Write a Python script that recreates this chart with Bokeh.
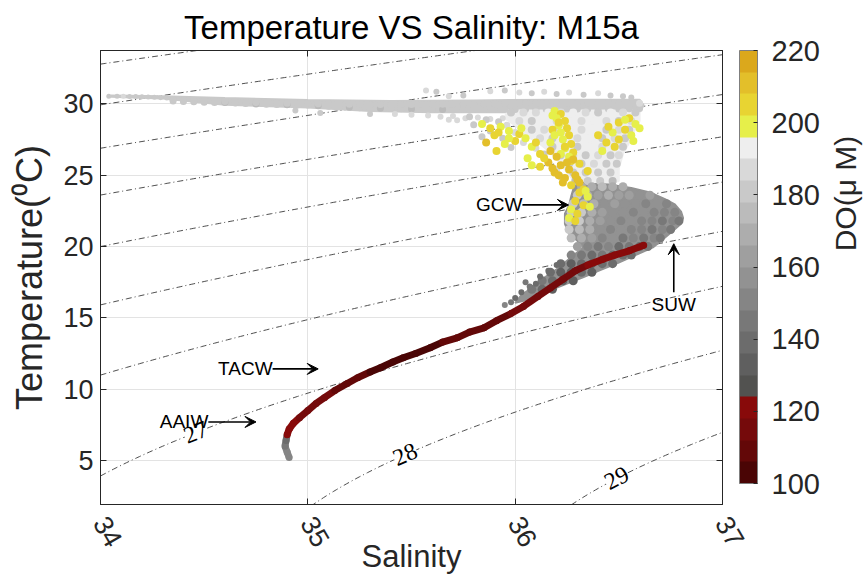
import numpy as np
from bokeh.plotting import figure
from bokeh.layouts import row
from bokeh.models import (ColumnDataSource, LinearColorMapper, ColorBar, LinearAxis,
                          Label, LabelSet, Arrow, VeeHead, FixedTicker, Range1d)
from bokeh.embed import file_html
from bokeh.resources import INLINE

FONT = "Liberation Sans"
INK = "#262626"

# ---------------- data ----------------
x_ticks = [34, 35, 36, 37]
y_ticks = [5, 10, 15, 20, 25, 30]
cb_ticks = [100, 120, 140, 160, 180, 200, 220]
sigma_levels = [20, 21, 22, 23, 24, 25, 26, 27, 28, 29]
sigma_label_levels = [27, 28, 29]
sigma_label_sal = [34.46, 35.47, 36.49]

# outlines of the densely filled parts of the cloud (salinity, temperature, DO)
band_outline_sal = [34.05, 34.30, 34.60, 35.00, 35.40, 35.80, 36.20, 36.60, 36.62,
                    36.60, 36.20, 35.80, 35.60, 35.30, 35.00, 34.60, 34.30, 34.05]
band_outline_temp = [30.60, 30.55, 30.42, 30.28, 30.20, 30.25, 30.30, 30.30, 29.90,
                     29.45, 29.43, 29.42, 29.42, 29.50, 29.75, 29.95, 30.38, 30.50]
band_patch_do = 180

cloud_outline_sal = [35.96, 36.60, 36.60, 36.57, 36.55, 36.52, 36.50, 36.50, 36.40,
                     36.30, 36.26, 36.22, 36.17, 36.12, 36.05, 36.00, 35.95]
cloud_outline_temp = [29.55, 29.55, 28.80, 28.00, 27.30, 26.50, 25.50, 24.60, 24.30,
                      24.40, 25.00, 25.80, 26.60, 27.20, 27.80, 28.50, 29.00]
cloud_patch_do = 190

bulge_outline_sal = [36.28, 36.35, 36.45, 36.56, 36.65, 36.72, 36.77, 36.80, 36.81,
                     36.80, 36.764, 36.72, 36.667, 36.58, 36.494, 36.41, 36.33, 36.25,
                     36.171, 36.10, 36.04, 36.00, 36.03, 36.06, 36.10, 36.14, 36.20,
                     36.25, 36.30, 36.33, 36.30, 36.26, 36.24, 36.24, 36.26, 36.27, 36.28]
bulge_outline_temp = [24.60, 24.40, 24.35, 24.10, 23.80, 23.35, 22.95, 22.45, 22.00,
                      21.60, 21.14, 20.60, 19.97, 19.40, 18.84, 18.35, 17.86, 17.40,
                      16.95, 16.55, 16.20, 16.05, 16.60, 16.90, 17.30, 17.80, 18.40,
                      19.00, 19.60, 19.95, 20.40, 20.90, 21.60, 22.30, 22.90, 23.50, 24.00]
bulge_patch_do = 154

# surface mixed layer: thin left tail
thin_sal = [34.04, 34.08, 34.11, 34.14, 34.17, 34.20, 34.23, 34.26, 34.29, 34.32]
thin_temp = [30.55, 30.54, 30.55, 30.53, 30.52, 30.50, 30.49, 30.47, 30.44, 30.42]
thin_do = [184, 184, 186, 184, 184, 182, 184, 182, 182, 180]

# surface mixed layer: band (upper and lower rows)
band_sal = [34.35, 34.40, 34.45, 34.50, 34.55, 34.60, 34.65, 34.70, 34.75, 34.80,
            34.85, 34.90, 34.95, 35.00, 35.05, 35.10, 35.15, 35.20, 35.25, 35.30,
            35.35, 35.40, 35.45, 35.50, 35.55, 35.60, 35.65, 35.70, 35.75, 35.80,
            35.85, 35.90, 35.95, 36.00, 36.05, 36.10, 36.15, 36.20, 36.25, 36.30,
            36.35, 36.40, 36.45, 36.50, 36.55, 36.60]
band_temp_top = [30.32, 30.28, 30.25, 30.22, 30.19, 30.17, 30.15, 30.12, 30.10, 30.08,
                 30.07, 30.05, 30.04, 30.03, 30.02, 30.00, 29.99, 29.98, 29.97, 29.96,
                 29.96, 29.95, 29.96, 29.96, 29.97, 29.98, 29.98, 29.99, 30.00, 30.00,
                 30.01, 30.02, 30.02, 30.03, 30.03, 30.04, 30.04, 30.05, 30.05, 30.05,
                 30.06, 30.05, 30.06, 30.05, 30.06, 30.05]
band_temp_bot = [30.20, 30.17, 30.15, 30.12, 30.10, 30.10, 30.06, 30.03, 30.00, 29.98,
                 29.96, 29.94, 29.93, 29.92, 29.88, 29.84, 29.80, 29.77, 29.74, 29.72,
                 29.70, 29.68, 29.66, 29.65, 29.64, 29.62, 29.62, 29.62, 29.62, 29.62,
                 29.62, 29.62, 29.62, 29.62, 29.63, 29.63, 29.63, 29.64, 29.64, 29.64,
                 29.64, 29.65, 29.65, 29.65, 29.66, 29.68]
band_do_top = [184, 182, 184, 182, 182, 184, 182, 182, 184, 182,
               182, 184, 182, 182, 184, 182, 182, 184, 182, 182,
               184, 182, 182, 184, 182, 182, 184, 182, 182, 184,
               182, 182, 184, 182, 182, 184, 182, 182, 184, 182,
               182, 184, 182, 184, 184, 186]
band_do_bot = [180, 180, 178, 180, 178, 176, 180, 178, 176, 178,
               180, 176, 178, 180, 176, 178, 180, 176, 178, 180,
               176, 178, 180, 176, 178, 180, 176, 180, 178, 180,
               180, 178, 180, 180, 178, 180, 180, 178, 180, 180,
               182, 180, 180, 182, 182, 184]

# loose dots above / below the band
loose_sal = [35.57, 35.62, 35.88, 35.95, 36.02, 36.08, 36.14, 36.20, 36.26, 36.33,
             36.40, 36.46, 36.52, 36.56, 35.68, 35.75,
             35.42, 35.50, 35.58, 35.64, 35.70, 35.76, 35.82, 35.88, 35.94, 35.72,
             35.68, 34.94, 35.06, 35.30]
loose_temp = [30.95, 30.85, 30.90, 30.95, 30.80, 30.75, 30.85, 30.70, 30.80, 30.65,
              30.75, 30.60, 30.55, 30.45, 30.55, 30.60,
              29.30, 29.25, 29.20, 29.10, 29.15, 29.00, 29.05, 28.95, 29.00, 28.85,
              28.90, 29.55, 29.37, 29.30]
loose_do = [186, 184, 186, 184, 186, 184, 186, 184, 186, 184,
            186, 184, 184, 184, 186, 184,
            186, 186, 188, 186, 188, 186, 188, 186, 188, 186,
            188, 182, 182, 184]

# upper thermocline cloud (light grey / white)
cloud_sal = [35.98, 36.04, 36.10, 36.16, 36.22, 36.28, 36.34, 36.40, 36.46, 36.52, 36.58,
             36.02, 36.08, 36.14, 36.20, 36.26, 36.32, 36.38, 36.44, 36.50, 36.56,
             36.08, 36.14, 36.20, 36.26, 36.32, 36.38, 36.44, 36.50, 36.55,
             36.12, 36.18, 36.24, 36.30, 36.36, 36.42, 36.48, 36.53,
             36.18, 36.24, 36.30, 36.36, 36.42, 36.48, 36.52,
             36.22, 36.28, 36.34, 36.40, 36.46, 36.50,
             36.26, 36.32, 36.38, 36.44, 36.49,
             36.28, 36.34, 36.40, 36.46,
             36.29, 36.35, 36.41, 36.47]
cloud_temp = [29.4] * 11 + [28.8] * 10 + [28.2] * 9 + [27.6] * 8 + [27.0] * 7 + \
             [26.4] * 6 + [25.8] * 5 + [25.2] * 4 + [24.6] * 4
cloud_do = [184, 186, 188, 192, 186, 192, 188, 184, 190, 186, 184,
            186, 184, 190, 186, 192, 186, 190, 186, 184, 186,
            184, 188, 186, 192, 186, 190, 184, 188, 184,
            186, 184, 190, 186, 190, 184, 188, 184,
            184, 188, 184, 190, 186, 188, 184,
            184, 186, 184, 188, 184, 186,
            182, 184, 186, 184, 182,
            180, 184, 182, 180,
            176, 180, 178, 176]

# light grey scattered dots on the left of the cloud
ltg_sal = [35.86, 35.92, 35.80, 35.96, 35.88, 36.00, 35.84, 35.94, 36.04, 35.98,
           36.10, 36.14, 36.16, 36.20, 36.22, 35.78]
ltg_temp = [28.90, 28.75, 28.55, 28.50, 28.10, 28.00, 27.70, 27.60, 27.30, 26.95,
            26.90, 26.50, 25.90, 25.40, 24.90, 29.10]
ltg_do = [184, 182, 184, 186, 184, 186, 182, 184, 186, 184,
          186, 184, 186, 186, 184, 182]

# grey bulge (Subtropical Underwater region) and its lower tail
bulge_sal = [36.32, 36.37, 36.42, 36.47, 36.52,
             36.30, 36.35, 36.40, 36.45, 36.50, 36.55, 36.60, 36.65,
             36.28, 36.33, 36.38, 36.43, 36.48, 36.53, 36.58, 36.63, 36.68, 36.73,
             36.27, 36.32, 36.37, 36.42, 36.47, 36.52, 36.57, 36.62, 36.67, 36.72, 36.77,
             36.26, 36.31, 36.36, 36.41, 36.46, 36.51, 36.56, 36.61, 36.66, 36.71, 36.76, 36.79,
             36.26, 36.31, 36.36, 36.41, 36.46, 36.51, 36.56, 36.61, 36.66, 36.71, 36.75,
             36.27, 36.32, 36.37, 36.42, 36.47, 36.52, 36.57, 36.62, 36.67, 36.70,
             36.30, 36.35, 36.40, 36.45, 36.50, 36.55, 36.60, 36.64,
             36.27, 36.32, 36.37, 36.42, 36.47, 36.52, 36.56,
             36.22, 36.27, 36.32, 36.37, 36.42, 36.47,
             36.17, 36.22, 36.27, 36.32, 36.37,
             36.13, 36.18, 36.23, 36.28,
             36.08, 36.13, 36.18]
bulge_temp = [24.2] * 5 + [23.6] * 8 + [23.0] * 10 + [22.4] * 11 + [21.8] * 12 + \
             [21.2] * 11 + [20.6] * 10 + [20.0] * 8 + [19.4] * 7 + [18.8] * 6 + \
             [18.2] * 5 + [17.6] * 4 + [17.0] * 3
bulge_do = [172, 168, 174, 166, 170,
            178, 170, 164, 168, 160, 164, 156, 160,
            182, 176, 166, 158, 162, 154, 158, 150, 154, 150,
            184, 180, 170, 160, 154, 158, 150, 154, 148, 152, 148,
            182, 180, 172, 160, 155, 150, 154, 148, 152, 146, 150, 146,
            180, 176, 168, 158, 152, 156, 148, 152, 146, 150, 146,
            174, 168, 160, 150, 154, 146, 150, 144, 148, 145,
            160, 150, 144, 148, 142, 146, 140, 144,
            148, 144, 140, 144, 138, 142, 140,
            140, 136, 140, 134, 138, 140,
            140, 136, 134, 138, 136,
            145, 138, 134, 136,
            145, 140, 136]

# grey dots above the lower T-S curve
tail_sal = [36.00, 36.03, 36.07, 35.98, 36.10, 36.05, 36.12, 36.16, 35.95, 36.20]
tail_temp = [16.4, 16.8, 17.2, 16.1, 17.4, 17.5, 17.9, 18.3, 15.9, 18.7]
tail_do = [142, 140, 144, 146, 140, 146, 142, 140, 150, 142]

# high-oxygen (yellow / orange) patches
yel_sal = [36.19, 36.22, 36.20, 36.24, 36.21, 36.25, 36.22, 36.26, 36.23, 36.27, 36.24, 36.28, 36.26, 36.18, 36.17,
           36.18, 36.21, 36.19, 36.24, 36.22, 36.27,
           36.17, 36.20, 36.16, 36.22, 36.26, 36.19, 36.29, 36.24, 36.31, 36.27, 36.33, 36.14, 36.12, 36.35, 36.31, 36.28,
           36.21, 36.25, 36.18, 36.23, 36.30,
           35.84, 35.88, 35.93, 35.97, 36.02, 35.90, 35.86, 35.95, 36.00, 36.05, 36.08, 36.12, 36.06, 36.08, 35.91,
           35.97, 35.92, 36.03, 36.10,
           36.55, 36.58, 36.50, 36.53, 36.47, 36.56, 36.50, 36.44, 36.48, 36.42, 36.40, 36.60,
           36.53, 36.45, 36.57,
           36.31, 36.35, 36.29, 36.33, 36.27, 36.30, 36.26, 36.34, 36.36, 36.29]
yel_temp = [29.5, 29.3, 29.0, 28.8, 28.5, 28.3, 28.0, 27.8, 27.5, 27.2, 26.9, 26.6, 26.3, 28.2, 27.3,
            29.2, 28.7, 27.8, 27.0, 26.5, 26.0,
            26.7, 26.3, 25.9, 25.7, 25.4, 25.2, 25.0, 24.8, 24.5, 24.3, 24.0, 26.2, 25.6, 25.3, 25.8, 26.1,
            25.0, 25.9, 25.5, 24.5, 24.7,
            28.6, 28.3, 28.4, 28.1, 27.9, 27.8, 27.3, 27.2, 27.4, 27.6, 27.0, 26.5, 26.2, 25.7, 26.7,
            27.6, 28.0, 28.3, 27.3,
            29.0, 28.6, 28.7, 28.2, 28.0, 27.8, 27.5, 27.3, 27.0, 26.7, 27.8, 28.3,
            28.9, 28.4, 27.4,
            23.8, 23.5, 23.2, 22.9, 22.6, 22.3, 22.0, 23.9, 22.8, 21.8]
yel_do = [200, 202, 200, 204, 200, 202, 200, 202, 200, 204, 200, 202, 200, 202, 200,
          200, 202, 200, 204, 200, 202,
          210, 212, 208, 214, 212, 210, 214, 212, 208, 206, 204, 204, 202, 202, 206, 210,
          212, 210, 214, 208, 212,
          200, 202, 200, 200, 202, 206, 208, 200, 202, 200, 200, 202, 200, 200, 204,
          200, 202, 200, 204,
          202, 200, 204, 202, 200, 200, 204, 202, 206, 200, 202, 200,
          200, 202, 200,
          202, 200, 204, 202, 200, 202, 200, 200, 200, 202]

# lower T-S curve (central / intermediate water), bottom to top
curve_sal = [34.91, 34.90, 34.89, 34.895, 34.90, 34.91, 34.93, 34.96, 35.00, 35.04,
             35.08, 35.13, 35.19, 35.24, 35.30, 35.35, 35.41, 35.46, 35.52, 35.59,
             35.65, 35.72, 35.78, 35.85, 35.91, 35.98, 36.04, 36.11, 36.17, 36.23,
             36.29, 36.35, 36.42, 36.48, 36.55, 36.62]
curve_temp = [5.2, 5.6, 6.0, 6.4, 6.8, 7.2, 7.6, 8.0, 8.5, 9.0,
              9.4, 9.9, 10.4, 10.8, 11.2, 11.5, 11.9, 12.2, 12.5, 12.9,
              13.3, 13.6, 14.0, 14.3, 14.8, 15.3, 15.8, 16.5, 17.1, 17.7,
              18.3, 18.7, 19.1, 19.4, 19.7, 20.1]
curve_do = [150, 148, 146, 140, 122, 121, 120, 118, 116, 114,
            112, 110, 108, 106, 104, 103, 103, 103, 104, 105,
            106, 106, 108, 108, 110, 112, 112, 114, 116, 118,
            118, 120, 120, 120, 120, 122]

# water-mass annotations
wm_names = ["AAIW", "TACW", "GCW", "SUW"]
wm_arrow_sal0 = [34.52, 34.83, 36.035, 36.765]
wm_arrow_temp0 = [7.70, 11.42, 22.92, 16.80]
wm_arrow_sal1 = [34.75, 35.05, 36.257, 36.765]
wm_arrow_temp1 = [7.70, 11.42, 22.92, 20.20]
wm_text_sal = [34.52, 34.83, 36.035, 36.765]
wm_text_temp = [7.70, 11.42, 22.92, 15.95]

# ---------------- colours ----------------
palette = ["#4a0505", "#630808", "#750a0b", "#880a0a",
           "#525250", "#5f5f5f", "#6c6c6c", "#787878", "#858585", "#929292",
           "#9f9f9f", "#adadad", "#bbbbbb", "#c9c9c9", "#d9d9d9", "#eeeeee",
           "#e6ef4a", "#e8d432", "#e3bf2a", "#dba81c"]
mapper = LinearColorMapper(palette=palette, low=100, high=220)

# ---------------- isopycnals (EOS-80, p = 0) ----------------
def sigma0(S, T):
    rw = (999.842594 + 6.793952e-2 * T - 9.095290e-3 * T ** 2 + 1.001685e-4 * T ** 3
          - 1.120083e-6 * T ** 4 + 6.536332e-9 * T ** 5)
    A = 8.24493e-1 - 4.0899e-3 * T + 7.6438e-5 * T ** 2 - 8.2467e-7 * T ** 3 + 5.3875e-9 * T ** 4
    B = -5.72466e-3 + 1.0227e-4 * T - 1.6546e-6 * T ** 2
    return rw + A * S + B * S ** 1.5 + 4.8314e-4 * S ** 2 - 1000.0


def iso_temp(level, S):
    S = np.asarray(S, dtype=float)
    lo = np.full_like(S, -2.0)
    hi = np.full_like(S, 40.0)
    for _ in range(60):
        mid = 0.5 * (lo + hi)
        dense = sigma0(S, mid) > level
        lo = np.where(dense, mid, lo)
        hi = np.where(dense, hi, mid)
    return 0.5 * (lo + hi)


X0, X1, Y0, Y1 = 34.0, 37.0, 1.91, 33.75
FW, FH = 622, 454
LEFT, TOP, BOTTOM, RIGHT = 100, 50, 75, 103
TOTAL_W, TOTAL_H = 863, 579

p = figure(frame_width=FW, frame_height=FH, x_range=Range1d(X0, X1), y_range=Range1d(Y0, Y1),
           output_backend="svg", toolbar_location=None,
           min_border_left=LEFT, min_border_right=RIGHT, min_border_top=TOP,
           min_border_bottom=BOTTOM,
           background_fill_color="white", border_fill_color="white")
p.outline_line_color = INK
p.outline_line_width = 1

p.title.text = "Temperature VS Salinity: M15a"
p.title.text_font = FONT
p.title.text_font_size = "33px"
p.title.text_font_style = "normal"
p.title.text_color = "black"
p.title.align = "center"
p.title.standoff = 10

# grid & axes
p.xgrid.grid_line_color = "#e3e3e3"
p.ygrid.grid_line_color = "#e3e3e3"
p.xaxis.ticker = FixedTicker(ticks=x_ticks)
p.yaxis.ticker = FixedTicker(ticks=y_ticks)
p.xgrid.ticker = FixedTicker(ticks=x_ticks)
p.ygrid.ticker = FixedTicker(ticks=y_ticks)
for ax in (p.xaxis[0], p.yaxis[0]):
    ax.major_tick_in = 6
    ax.major_tick_out = 0
    ax.minor_tick_line_color = None
    ax.axis_line_color = INK
    ax.major_tick_line_color = INK
    ax.major_label_text_font = FONT
    ax.major_label_text_font_size = "27px"
    ax.major_label_text_color = INK
p.xaxis.major_label_orientation = -np.pi / 3
p.xaxis.major_label_standoff = 14
p.xaxis.axis_label = "Salinity"
p.xaxis.axis_label_text_font = FONT
p.xaxis.axis_label_text_font_size = "31px"
p.xaxis.axis_label_text_font_style = "normal"
p.xaxis.axis_label_text_color = INK
p.xaxis.axis_label_standoff = -18
p.yaxis.major_label_standoff = 7
p.yaxis.axis_label = "Temperature(\u2070C)"
p.yaxis.axis_label_text_font = FONT
p.yaxis.axis_label_text_font_size = "36px"
p.yaxis.axis_label_text_font_style = "normal"
p.yaxis.axis_label_text_color = INK
p.yaxis.axis_label_standoff = 10

for side in ("right", "above"):
    ax = LinearAxis(ticker=FixedTicker(ticks=y_ticks if side == "right" else x_ticks),
                    major_label_text_font_size="2px", major_label_text_color=None,
                    major_tick_in=6, major_tick_out=0,
                    minor_tick_line_color=None, axis_line_color=INK, major_tick_line_color=INK,
                    major_label_standoff=0)
    p.add_layout(ax, side)

# isopycnal lines
sal_line = np.linspace(X0, X1, 241)
xs, ys = [], []
for lev in sigma_levels:
    xs.append(sal_line.tolist())
    ys.append(iso_temp(lev, sal_line).tolist())
p.multi_line(xs, ys, line_color="#3a3a3a", line_width=0.9, line_dash="6 3 1 3")

# filled cloud bodies
shape_src = ColumnDataSource(dict(xs=[band_outline_sal, cloud_outline_sal, bulge_outline_sal],
                                  ys=[band_outline_temp, cloud_outline_temp, bulge_outline_temp],
                                  do=[band_patch_do, cloud_patch_do, bulge_patch_do]))
p.patches("xs", "ys", source=shape_src, fill_color={"field": "do", "transform": mapper},
          line_color={"field": "do", "transform": mapper}, line_width=2)


def dots(sal, temp, do, size):
    src = ColumnDataSource(dict(sal=sal, temp=temp, do=do))
    p.scatter("sal", "temp", source=src, size=size,
              fill_color={"field": "do", "transform": mapper}, line_color=None)


dots(thin_sal, thin_temp, thin_do, 5)
dots(band_sal, band_temp_bot, band_do_bot, 7)
dots(band_sal, band_temp_top, band_do_top, 7)
dots(loose_sal, loose_temp, loose_do, 6)
dots(cloud_sal, cloud_temp, cloud_do, 8)
dots(ltg_sal, ltg_temp, ltg_do, 7)
dots(bulge_sal, bulge_temp, bulge_do, 9)
dots(tail_sal, tail_temp, tail_do, 6)
dots(yel_sal, yel_temp, yel_do, 8)

seg = ColumnDataSource(dict(x0=curve_sal[:-1], y0=curve_temp[:-1], x1=curve_sal[1:],
                            y1=curve_temp[1:], do=curve_do[:-1]))
p.segment("x0", "y0", "x1", "y1", source=seg, line_width=7,
          line_color={"field": "do", "transform": mapper})
dots(curve_sal, curve_temp, curve_do, 7)

# isopycnal labels
px_per_s = FW / (X1 - X0)
px_per_t = FH / (Y1 - Y0)
lab_t, lab_ang = [], []
for lev, s in zip(sigma_label_levels, sigma_label_sal):
    t = float(iso_temp(lev, np.array([s]))[0])
    t2 = float(iso_temp(lev, np.array([s + 0.01]))[0])
    lab_t.append(t)
    lab_ang.append(float(np.arctan2((t2 - t) * px_per_t, 0.01 * px_per_s)))
lab_src = ColumnDataSource(dict(x=sigma_label_sal, y=lab_t, text=[str(v) for v in sigma_label_levels],
                                angle=lab_ang))
p.add_layout(LabelSet(x="x", y="y", text="text", angle="angle", source=lab_src,
                      text_align="center", text_baseline="middle", text_font=FONT,
                      text_font_size="24px", text_color="black",
                      background_fill_color="white"))

# water-mass arrows and names
for i, name in enumerate(wm_names):
    p.add_layout(Arrow(end=VeeHead(size=11, fill_color="black", line_color="black"),
                       x_start=wm_arrow_sal0[i], y_start=wm_arrow_temp0[i],
                       x_end=wm_arrow_sal1[i], y_end=wm_arrow_temp1[i],
                       line_color="black", line_width=1.6))
    align = "center" if name == "SUW" else "right"
    p.add_layout(Label(x=wm_text_sal[i], y=wm_text_temp[i], text=name, text_align=align,
                       text_baseline="middle", text_font=FONT, text_font_size="19px",
                       text_color="black"))

# colour bar
cb = ColorBar(color_mapper=mapper, ticker=FixedTicker(ticks=cb_ticks), width=18, height=433,
              location=(639, 21), padding=0, margin=0, label_standoff=14,
              major_label_text_font=FONT, major_label_text_font_size="29px",
              major_label_text_color=INK, bar_line_color="#7f7f7f",
              major_tick_line_color=INK, major_tick_in=4, major_tick_out=0,
              background_fill_color=None)
p.add_layout(cb)

# narrow strip on the right carrying the colour-bar title (rotated)
strip_w = TOTAL_W - (LEFT + FW + RIGHT)
q = figure(width=strip_w, height=TOTAL_H, x_range=Range1d(0, strip_w), y_range=Range1d(0, TOTAL_H),
           output_backend="svg", toolbar_location=None, x_axis_location=None, y_axis_location=None,
           min_border=0, min_border_left=0, min_border_right=0, min_border_top=0, min_border_bottom=0,
           background_fill_color="white", border_fill_color="white")
q.outline_line_color = None
q.xgrid.visible = False
q.ygrid.visible = False
q.add_layout(Label(x=20, y=TOTAL_H - 268, x_units="screen", y_units="screen",
                   text="DO(\u03bc M)", angle=np.pi / 2, text_align="center",
                   text_baseline="middle", text_font=FONT, text_font_size="30px",
                   text_color=INK))

layout = row(p, q, spacing=0)
open("out.html", "w").write(file_html(layout, INLINE))
